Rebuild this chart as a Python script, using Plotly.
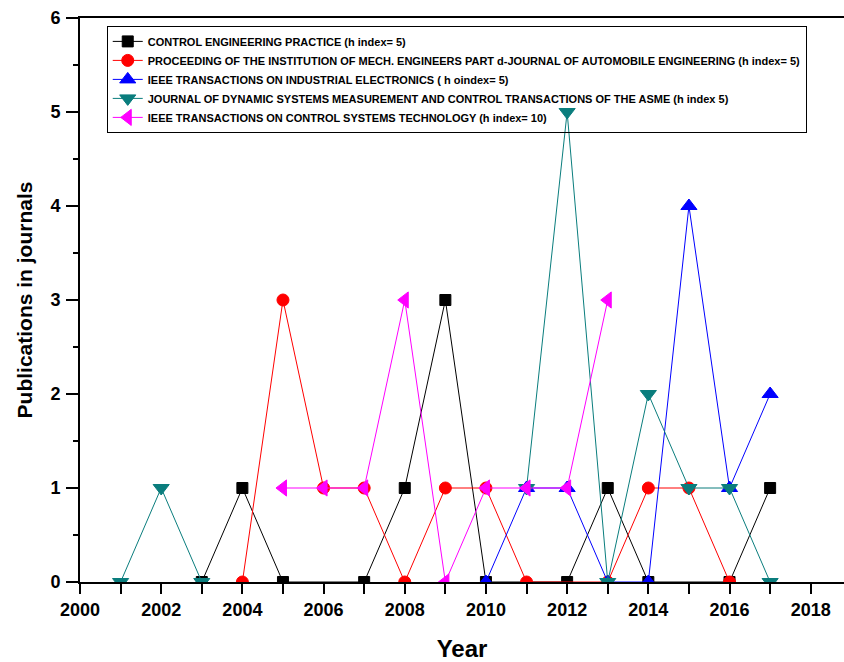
import plotly.graph_objects as go

# Data
names = [
    "CONTROL ENGINEERING PRACTICE (h index= 5)",
    "PROCEEDING OF THE INSTITUTION OF MECH. ENGINEERS PART d-JOURNAL OF AUTOMOBILE ENGINEERING (h index= 5)",
    "IEEE TRANSACTIONS ON INDUSTRIAL ELECTRONICS ( h oindex= 5)",
    "JOURNAL OF DYNAMIC SYSTEMS MEASUREMENT AND CONTROL TRANSACTIONS OF THE ASME (h index 5)",
    "IEEE TRANSACTIONS ON CONTROL SYSTEMS TECHNOLOGY (h index= 10)",
]

cep_years = [2003, 2004, 2005, 2007, 2008, 2009, 2010, 2012, 2013, 2014, 2016, 2017]
cep_pubs = [0, 1, 0, 0, 1, 3, 0, 0, 1, 0, 0, 1]

imeche_years = [2004, 2005, 2006, 2007, 2008, 2009, 2010, 2011, 2013, 2014, 2015, 2016]
imeche_pubs = [0, 3, 1, 1, 0, 1, 1, 0, 0, 1, 1, 0]

tie_years = [2010, 2011, 2012, 2013, 2014, 2015, 2016, 2017]
tie_pubs = [0, 1, 1, 0, 0, 4, 1, 2]

asme_years = [2001, 2002, 2003, 2007, 2011, 2012, 2013, 2014, 2015, 2016, 2017]
asme_pubs = [0, 1, 0, None, 1, 5, 0, 2, 1, 1, 0]

tcst_years = [2005, 2006, 2007, 2008, 2009, 2010, 2011, 2012, 2013]
tcst_pubs = [1, 1, 1, 3, 0, 1, 1, 1, 3]

x_tick_vals = [2000, 2002, 2004, 2006, 2008, 2010, 2012, 2014, 2016, 2018]
y_tick_vals = [0, 1, 2, 3, 4, 5, 6]

series = [
    (cep_years, cep_pubs, names[0], "#000000", "square", 11),
    (imeche_years, imeche_pubs, names[1], "#ff0000", "circle", 12),
    (tie_years, tie_pubs, names[2], "#0000ff", "triangle-up", 14),
    (asme_years, asme_pubs, names[3], "#0a7d7d", "triangle-down", 14),
    (tcst_years, tcst_pubs, names[4], "#ff00ff", "triangle-left", 14),
]

FONT = "Liberation Sans, Arial, sans-serif"

fig = go.Figure()
for xs, ys, nm, col, sym, sz in series:
    fig.add_trace(go.Scatter(
        x=xs, y=ys, name=nm, mode="lines+markers",
        line=dict(color=col, width=1),
        marker=dict(symbol=sym, size=sz, color=col, line=dict(color=col, width=1)),
        connectgaps=False,
    ))

fig.update_layout(
    width=844, height=662,
    margin=dict(l=80, r=0, t=18, b=80),
    paper_bgcolor="white", plot_bgcolor="white",
    font=dict(family=FONT, color="black"),
    showlegend=True,
    legend=dict(
        x=0.035, y=0.986, xanchor="left", yanchor="top",
        bgcolor="rgba(255,255,255,0)", bordercolor="black", borderwidth=1,
        font=dict(size=11, family=FONT, color="black", weight="bold"),
        itemwidth=30, tracegroupgap=0,
    ),
    xaxis=dict(
        range=[2000, 2018.82], automargin=False,
        tickvals=x_tick_vals, ticktext=[str(v) for v in x_tick_vals],
        ticks="outside", ticklen=10, tickwidth=2, tickcolor="black",
        minor=dict(dtick=1, ticks="outside", ticklen=10, tickwidth=2, tickcolor="black"),
        showline=True, linewidth=2, linecolor="black", mirror=True,
        showgrid=False, zeroline=False,
        tickfont=dict(size=18, family=FONT, weight="bold"),
        title=dict(text="<b>Year</b>", font=dict(size=24), standoff=23),
    ),
    yaxis=dict(
        range=[0, 6], automargin=False,
        tickvals=y_tick_vals,
        ticks="outside", ticklen=12, tickwidth=2, tickcolor="black",
        minor=dict(dtick=0.5, ticks="outside", ticklen=5, tickwidth=2, tickcolor="black"),
        showline=True, linewidth=2, linecolor="black", mirror=False,
        showgrid=False, zeroline=False,
        ticklabelstandoff=2,
        tickfont=dict(size=18, family=FONT, weight="bold"),
        title=dict(text="<b>Publications in journals</b>", font=dict(size=21), standoff=12),
    ),
)

fig.write_html(
    "out.html",
    config={"displayModeBar": False},
    post_script="document.body.style.margin='0';document.body.style.overflow='hidden';",
)
